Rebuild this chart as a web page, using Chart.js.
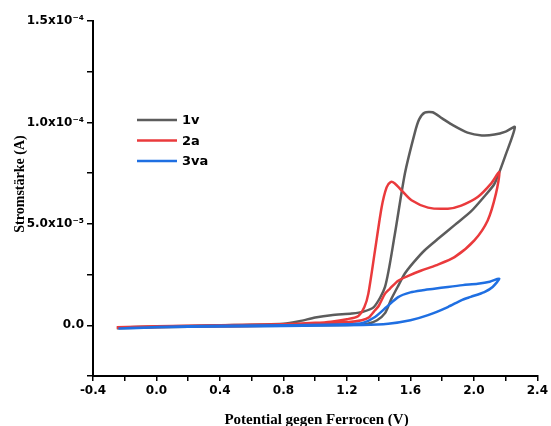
<!DOCTYPE html>
<html>
<head>
<meta charset="utf-8">
<script src="https://cdn.jsdelivr.net/npm/chart.js@4"></script>
<style>
  html, body { margin: 0; padding: 0; background: #fff; }
  #wrap { width: 551px; height: 426px; position: relative; }
</style>
</head>
<body>
<div id="wrap"><canvas id="cvChart"></canvas></div>
<script>
// Potential (V vs. Fc) and current (in units of 1e-5 A), forward + return scan
const seriesNames = ['1v', '2a', '3va'];
const seriesColors = ['#5c5c5c', '#ea3a3c', '#1f6fe2'];

const potential1v = [-0.25, 0.0, 0.4, 0.8, 0.9, 1.0, 1.1, 1.23, 1.3, 1.37, 1.44, 1.50, 1.565, 1.628, 1.655, 1.69, 1.74, 1.80, 1.86, 1.96, 2.05, 2.13, 2.2, 2.258,
                     2.20, 2.13, 2.06, 1.98, 1.88, 1.78, 1.69, 1.62, 1.565, 1.52, 1.48, 1.44, 1.39, 1.33, 1.2, 0.8, 0.4, 0.0, -0.25];
const current1v   = [-0.12, -0.06, 0.0, 0.08, 0.2, 0.38, 0.5, 0.58, 0.66, 0.9, 1.89, 4.4, 7.47, 9.5, 10.15, 10.48, 10.5, 10.2, 9.9, 9.5, 9.36, 9.4, 9.55, 9.77,
                     8.4, 6.98, 6.3, 5.6, 4.95, 4.3, 3.7, 3.1, 2.55, 1.9, 1.3, 0.6, 0.25, 0.08, 0.02, -0.02, -0.05, -0.1, -0.15];

const potential2a = [-0.25, 0.0, 0.4, 0.8, 1.0, 1.1, 1.2, 1.27, 1.31, 1.335, 1.377, 1.419, 1.45, 1.475, 1.50, 1.544, 1.607, 1.711, 1.836, 1.92, 2.024, 2.108, 2.16,
                     2.139, 2.087, 2.003, 1.878, 1.76, 1.669, 1.59, 1.523, 1.47, 1.44, 1.40, 1.377, 1.34, 1.293, 1.21, 0.8, 0.4, 0.0, -0.25];
const current2a   = [-0.1, -0.05, 0.0, 0.05, 0.12, 0.18, 0.3, 0.45, 0.9, 1.56, 3.69, 5.83, 6.8, 7.06, 7.0, 6.65, 6.16, 5.8, 5.75, 5.9, 6.32, 6.98, 7.55,
                     6.49, 5.17, 4.19, 3.36, 2.95, 2.7, 2.45, 2.2, 1.8, 1.56, 0.95, 0.74, 0.4, 0.25, 0.16, 0.0, -0.05, -0.08, -0.12];

const potential3va = [-0.24, 0.0, 0.4, 0.8, 1.2, 1.3, 1.377, 1.45, 1.523, 1.6, 1.669, 1.75, 1.836, 1.93, 2.024, 2.1, 2.16,
                      2.118, 2.066, 1.98, 1.92, 1.836, 1.711, 1.6, 1.46, 1.3, 0.8, 0.4, 0.0, -0.24];
const current3va   = [-0.16, -0.08, -0.02, 0.0, 0.05, 0.12, 0.41, 0.9, 1.39, 1.62, 1.72, 1.8, 1.89, 1.98, 2.05, 2.15, 2.3,
                      1.89, 1.64, 1.4, 1.23, 0.9, 0.5, 0.25, 0.08, 0.02, -0.03, -0.06, -0.1, -0.16];

const yTickLabels = { '0': '0.0', '5': '5.0x10\u207B\u2075', '10': '1.0x10\u207B\u2074', '15': '1.5x10\u207B\u2074' };

const toPoints = (xs, ys) => xs.map((x, i) => ({ x: x, y: ys[i] }));

// axis titles + in-plot legend
const extrasPlugin = {
    id: 'extras',
    afterDraw(chart) {
        const ctx = chart.ctx;
        ctx.save();
        ctx.fillStyle = '#000';
        ctx.font = 'bold 15px "Liberation Serif", serif';
        ctx.textAlign = 'center';
        ctx.textBaseline = 'alphabetic';
        ctx.fillText('Potential gegen Ferrocen (V)', 316.5, 424);

        ctx.save();
        ctx.translate(20, 184);
        ctx.rotate(-Math.PI / 2);
        ctx.font = 'bold 14px "Liberation Serif", serif';
        ctx.textBaseline = 'middle';
        ctx.fillText('Stromst\u00E4rke (A)', 0, 0);
        ctx.restore();

        ctx.font = 'bold 13px "DejaVu Sans", sans-serif';
        ctx.textAlign = 'left';
        ctx.textBaseline = 'middle';
        const rows = [120, 140.5, 161];
        seriesNames.forEach((name, i) => {
            ctx.strokeStyle = seriesColors[i];
            ctx.lineWidth = 2.5;
            ctx.beginPath();
            ctx.moveTo(137, rows[i]);
            ctx.lineTo(177, rows[i]);
            ctx.stroke();
            ctx.fillStyle = '#000';
            ctx.fillText(name, 182, rows[i] + 1);
        });
        ctx.restore();
    }
};

document.addEventListener('DOMContentLoaded', () => {
    Chart.defaults.color = '#000';
    const tickFont = { family: '"DejaVu Sans", sans-serif', size: 12, weight: 'bold' };
    const pairs = [[potential1v, current1v], [potential2a, current2a], [potential3va, current3va]];
    const drawOrder = [2, 1, 0];

    new Chart(document.getElementById('cvChart'), {
        type: 'scatter',
        data: {
            datasets: pairs.map((p, i) => ({
                label: seriesNames[i],
                data: toPoints(p[0], p[1]),
                showLine: true,
                borderColor: seriesColors[i],
                backgroundColor: seriesColors[i],
                borderWidth: 2.5,
                pointRadius: 0,
                tension: 0.25,
                order: drawOrder[i]
            }))
        },
        options: {
            responsive: true,
            maintainAspectRatio: false,
            animation: false,
            layout: { padding: { top: 21, right: 11, left: 0, bottom: 0 } },
            plugins: { legend: { display: false }, tooltip: { enabled: false } },
            scales: {
                x: {
                    type: 'linear',
                    min: -0.4,
                    max: 2.4,
                    afterFit: (s) => { s.height = 50; },
                    border: { color: '#000', width: 2 },
                    grid: { drawOnChartArea: false, drawTicks: true, tickLength: 5, color: '#000', lineWidth: 1.5 },
                    ticks: {
                        stepSize: 0.2,
                        autoSkip: false,
                        maxRotation: 0,
                        padding: 3,
                        font: tickFont,
                        callback: (v, i) => (i % 2 === 0 ? (Math.round(v * 10) / 10 + 0).toFixed(1) : '')
                    }
                },
                y: {
                    type: 'linear',
                    min: -2.5,
                    max: 15,
                    afterFit: (s) => { s.width = 93; },
                    border: { color: '#000', width: 2 },
                    grid: { drawOnChartArea: false, drawTicks: true, tickLength: 6, color: '#000', lineWidth: 1.5 },
                    ticks: {
                        stepSize: 2.5,
                        autoSkip: false,
                        padding: 3,
                        font: tickFont,
                        callback: (v) => yTickLabels[String(Math.round(v * 10) / 10)] || ''
                    }
                }
            }
        },
        plugins: [extrasPlugin]
    });
});
</script>
</body>
</html>
